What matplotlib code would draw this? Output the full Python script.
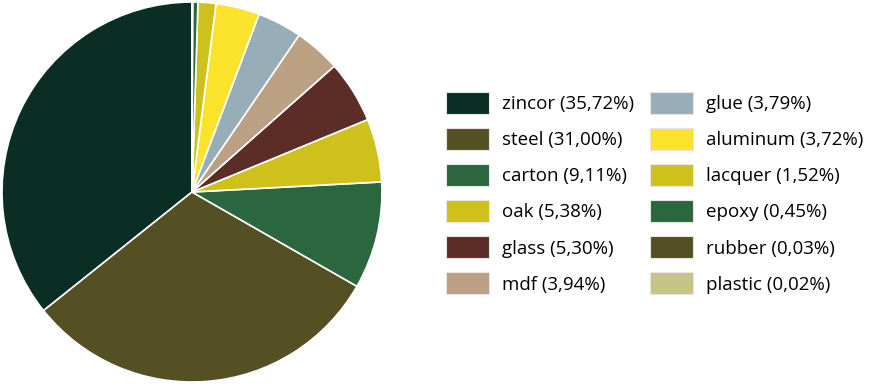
import matplotlib.pyplot as plt
from matplotlib.patches import Patch

materials = ["zincor", "steel", "carton", "oak", "glass", "mdf",
             "glue", "aluminum", "lacquer", "epoxy", "rubber", "plastic"]
shares = [35.72, 31.00, 9.11, 5.38, 5.30, 3.94, 3.79, 3.72, 1.52, 0.45, 0.03, 0.02]
colors = ["#0b2e24", "#555024", "#2a673f", "#cfc11b", "#5c2d27", "#bca083",
          "#97aeb9", "#fbe32c", "#cfc11b", "#2a673f", "#555024", "#c8c487"]

plt.rcParams['font.family'] = ['Open Sans', 'DejaVu Sans']

fig = plt.figure(figsize=(8.72, 3.84), dpi=100)
ax = fig.add_axes([2 / 872, 2 / 384, 380 / 872, 380 / 384])
ax.pie(shares, colors=colors, startangle=90, counterclock=True,
       wedgeprops=dict(edgecolor="white", linewidth=1.2))
ax.set_xlim(-1, 1)
ax.set_ylim(-1, 1)
ax.set_aspect("equal")

labels = [f"{m} ({s:.2f}%)".replace(".", ",") for m, s in zip(materials, shares)]
handles = [Patch(facecolor=c, edgecolor="#e6e6e6", linewidth=0.8) for c in colors]
fig.legend(handles, labels, ncol=2, loc="upper left",
           bbox_to_anchor=(446 / 872, 1 - 92 / 384), frameon=False,
           fontsize=13.5, handlelength=2.29, handleheight=1.43,
           handletextpad=0.7, labelspacing=0.75, columnspacing=0.85,
           borderpad=0, borderaxespad=0)

fig.savefig("out.png", dpi=100)
